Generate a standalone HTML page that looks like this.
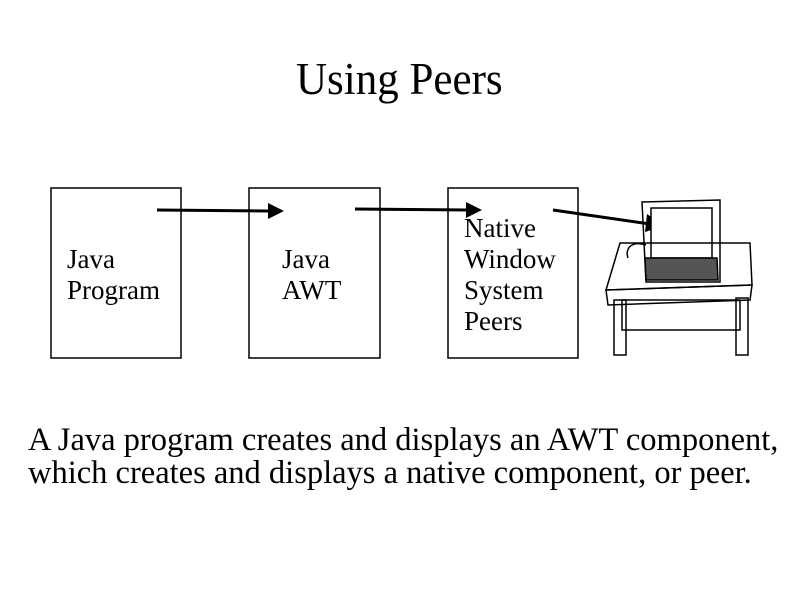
<!DOCTYPE html>
<html><head><style>
body{margin:0;background:#fff;width:794px;height:595px;overflow:hidden;position:relative;font-family:"Liberation Serif",serif;}
.t{position:absolute;color:#000;white-space:nowrap}
</style></head><body>
<div class="t" style="left:296px;top:54px;font-size:43px;transform:scaleY(1.05);transform-origin:0 0;">Using Peers</div>
<svg width="794" height="595" style="position:absolute;left:0;top:0">
<g fill="none" stroke="#000" stroke-width="1.5">
<rect x="51" y="188" width="130" height="170"/>
<rect x="249" y="188" width="131" height="170"/>
<rect x="448" y="188" width="130" height="170"/>
</g>
<g stroke="#000" stroke-width="3">
<line x1="157" y1="210" x2="270" y2="211"/>
<line x1="355" y1="209" x2="468" y2="210"/>
<line x1="553" y1="210" x2="650" y2="224"/>
</g>
<polygon points="284,211 268,203 268,219" fill="#000"/>
<polygon points="482,210 466,202 466,218" fill="#000"/>
<polygon points="664,226 647,214 645,232" fill="#000"/>
<g fill="none" stroke="#000" stroke-width="1.5">
<polygon points="642,202 720,200 720,282 646,282"/>
<rect x="651" y="208" width="61" height="50" fill="#fff"/>
<polygon points="645,258 717,258 718,280 646,280" fill="#555"/>
<polygon points="620,243 750,243 752,285 606,290"/>
<polygon points="606,290 752,285 750,300 608,305"/>
<rect x="622" y="300" width="118" height="30"/>
<rect x="614" y="300" width="12" height="55"/>
<rect x="736" y="298" width="12" height="57"/>
<path d="M646 245 C630 240 625 250 628 258"/>
</g>
</svg>
<div class="t" style="left:67px;top:244px;font-size:27px;line-height:31px;">Java<br>Program</div>
<div class="t" style="left:282px;top:244px;font-size:27px;line-height:31px;">Java<br>AWT</div>
<div class="t" style="left:464px;top:213px;font-size:27px;line-height:31px;">Native<br>Window<br>System<br>Peers</div>
<div class="t" style="left:28px;top:424px;font-size:32.5px;line-height:33px;">A Java program creates and displays an AWT component,<br>which creates and displays a native component, or peer.</div>
</body></html>
